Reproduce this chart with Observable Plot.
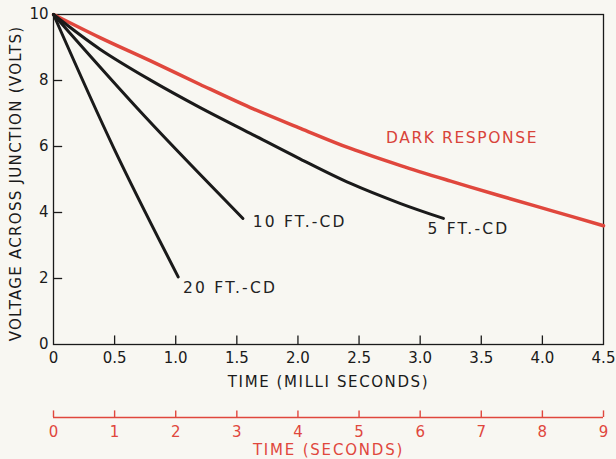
<!DOCTYPE html>
<html><head><meta charset="utf-8">
<script src="https://cdn.jsdelivr.net/npm/d3@7"></script>
<script src="https://cdn.jsdelivr.net/npm/@observablehq/plot@0.6"></script>
<style>
body{margin:0;background:#f8f7f2;}
#chart svg{display:block;background:transparent;}
</style>
</head><body><div id="chart"></div>
<script>
// ---- data ----
const msTicks = [0, 0.5, 1, 1.5, 2, 2.5, 3, 3.5, 4, 4.5];
const msTickLabels = ["0", "0.5", "1.0", "1.5", "2.0", "2.5", "3.0", "3.5", "4.0", "4.5"];
const voltTicks = [0, 2, 4, 6, 8, 10];
const secTicks = [0, 1, 2, 3, 4, 5, 6, 7, 8, 9];

const darkT = [0, 0.38, 0.79, 1.2, 1.61, 2.02, 2.43, 2.84, 3.25, 3.66, 4.08, 4.5];
const darkV = [10, 9.3, 8.6, 7.88, 7.18, 6.55, 5.94, 5.42, 4.95, 4.5, 4.05, 3.6];
const fiveT = [0, 0.38, 0.79, 1.2, 1.61, 2.02, 2.43, 2.84, 3.19];
const fiveV = [10, 8.95, 8.02, 7.18, 6.4, 5.62, 4.88, 4.27, 3.82];
const tenT = [0, 0.75, 1.55];
const tenV = [10, 6.9, 3.82];
const twentyT = [0, 0.5, 1.02];
const twentyV = [10, 5.9, 2.05];

const labelNames = ["DARK RESPONSE", "5 FT.-CD", "10 FT.-CD", "20 FT.-CD"];
const labelT = [2.72, 3.06, 1.63, 1.06];
const labelV = [6.27, 3.5, 3.7, 1.72];
const labelColors = ["#d8433a", "#222", "#222", "#222"];

const xTitle = "TIME (MILLI SECONDS)";
const yTitle = "VOLTAGE ACROSS JUNCTION (VOLTS)";
const secTitle = "TIME (SECONDS)";

// ---- build ----
const RED = "#e0473d";
const INK = "#1a1a1a";
const font = "DejaVu Sans";
const toPts = (T, V) => T.map((t, i) => ({t, v: V[i]}));

const main = Plot.plot({
  width: 616, height: 395,
  marginTop: 14, marginBottom: 51, marginLeft: 53, marginRight: 13,
  style: {fontFamily: font, background: "transparent", color: INK},
  x: {domain: [0, 4.5]},
  y: {domain: [0, 10]},
  marks: [
    Plot.frame({stroke: INK, strokeWidth: 1.3}),
    Plot.ruleX(msTicks.slice(1, -1), {x: d => d, y1: 0, y2: 0.26, stroke: INK, strokeWidth: 1.3}),
    Plot.ruleY(voltTicks.slice(1, -1), {y: d => d, x1: 0, x2: 0.075, stroke: INK, strokeWidth: 1.3}),
    Plot.axisX(msTicks, {tickSize: 0, tickPadding: 8, fontSize: 15, label: null,
      tickFormat: d => msTickLabels[msTicks.indexOf(d)]}),
    Plot.axisY(voltTicks, {tickSize: 0, tickPadding: 5, fontSize: 15, label: null}),
    Plot.line(toPts(darkT, darkV), {x: "t", y: "v", stroke: RED, strokeWidth: 3.5, curve: "catmull-rom"}),
    Plot.line(toPts(fiveT, fiveV), {x: "t", y: "v", stroke: INK, strokeWidth: 3, curve: "catmull-rom"}),
    Plot.line(toPts(tenT, tenV), {x: "t", y: "v", stroke: INK, strokeWidth: 3, curve: "catmull-rom"}),
    Plot.line(toPts(twentyT, twentyV), {x: "t", y: "v", stroke: INK, strokeWidth: 3, curve: "catmull-rom"}),
    Plot.text(labelNames, {x: (d, i) => labelT[i], y: (d, i) => labelV[i], text: d => d,
      fill: (d, i) => labelColors[i], textAnchor: "start", fontSize: 15.5}),
    Plot.text([xTitle], {frameAnchor: "bottom", dy: 42, text: d => d, fontSize: 15, fill: INK}),
    Plot.text([yTitle], {frameAnchor: "left", textAnchor: "middle", dx: -37, dy: 4, rotate: -90,
      text: d => d, fontSize: 15, fill: INK})
  ]
});

const sec = Plot.plot({
  width: 616, height: 64,
  marginTop: 0, marginBottom: 42, marginLeft: 53, marginRight: 13,
  style: {fontFamily: font, background: "transparent", color: RED},
  x: {domain: [0, 9]},
  y: {domain: [0, 1], axis: null},
  marks: [
    Plot.ruleY([0], {stroke: RED, strokeWidth: 1.4}),
    Plot.ruleX(secTicks, {x: d => d, y1: 0, y2: 0.3, stroke: RED, strokeWidth: 1.4}),
    Plot.axisX(secTicks, {tickSize: 0, tickPadding: 9, fontSize: 15, label: null, fill: RED}),
    Plot.text([secTitle], {frameAnchor: "bottom", dy: 37, text: d => d, fontSize: 15, fill: RED})
  ]
});

const root = document.getElementById("chart");
root.append(main, sec);
const spacing = {
  "DARK RESPONSE": "1.6px", "5 FT.-CD": "2.2px", "10 FT.-CD": "2.2px", "20 FT.-CD": "2.2px",
  [xTitle]: "1.6px", [yTitle]: "1.3px", [secTitle]: "1.8px"
};
root.querySelectorAll("svg text").forEach(t => {
  const s = spacing[t.textContent];
  if (s) t.style.letterSpacing = s;
});
</script>
</body></html>
